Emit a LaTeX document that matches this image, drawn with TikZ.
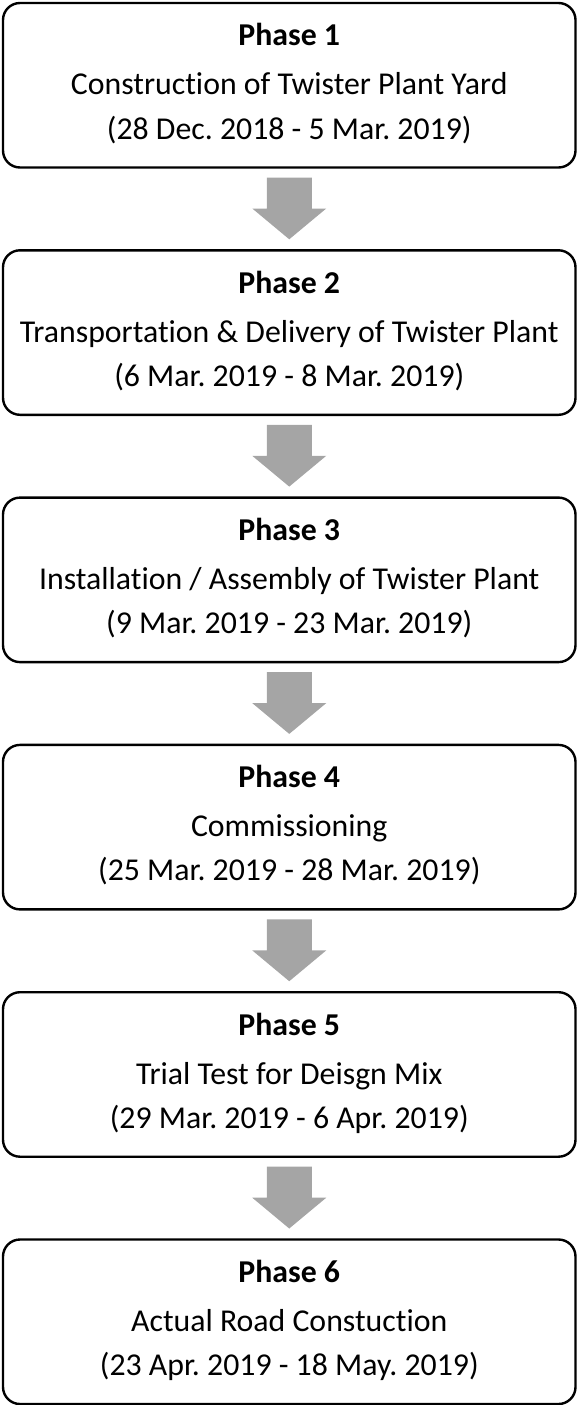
\documentclass[tikz,border=0pt]{standalone}
\usepackage{fontspec}
\setmainfont{Carlito}[Ligatures={NoCommon}]
\usetikzlibrary{calc}
\frenchspacing

\definecolor{arrowgray}{HTML}{A5A5A5}

\tikzset{
  phasebox/.style={draw=black, line width=2.4pt, rounded corners=17pt,
    minimum width=572.5pt, minimum height=164.5pt, outer sep=0pt, inner sep=0pt},
  textline/.style={anchor=base, inner sep=0pt, font=\fontsize{31.8}{38}\selectfont},
  headline/.style={textline, font=\fontsize{31.8}{38}\selectfont\bfseries},
  flowarrow/.style={fill=arrowgray, draw=none}
}

% block arrow from the bottom of one phase box to the top of the next
\newcommand\phasearrow[2]{%
  \fill[flowarrow] ($(#1.south)+(-22.5,10)$) -- ++(45,0) -- ++(0,31) -- ++(14.5,0)
    -- ($(#2.north)+(0,-11)$) -- ($(#1.south)+(-37,41)$) -- ++(14.5,0) -- cycle;
}

\begin{document}
\begin{tikzpicture}[x=1pt,y=-1pt]
  \useasboundingbox (0,0) rectangle (577,1405);

  % phase boxes
  \node[phasebox] (p1) at (289.25,85.25) {};
  \node[phasebox] (p2) at (289.25,332.55) {};
  \node[phasebox] (p3) at (289.25,579.85) {};
  \node[phasebox] (p4) at (289.25,827.15) {};
  \node[phasebox] (p5) at (289.25,1074.45) {};
  \node[phasebox] (p6) at (289.25,1321.75) {};

  % box contents
  \node[headline] (h1) at ($(p1.north)+(0,43)$) {Phase 1};
  \node[textline] (d1) at ($(p1.north)+(0,92)$) {Construction of Twister Plant Yard};
  \node[textline] (t1) at ($(p1.north)+(0,136)$) {(28 Dec. 2018 - 5 Mar. 2019)};

  \node[headline] (h2) at ($(p2.north)+(0,43)$) {Phase 2};
  \node[textline] (d2) at ($(p2.north)+(0,92)$) {Transportation \& Delivery of Twister Plant};
  \node[textline] (t2) at ($(p2.north)+(0,136)$) {(6 Mar. 2019 - 8 Mar. 2019)};

  \node[headline] (h3) at ($(p3.north)+(0,43)$) {Phase 3};
  \node[textline] (d3) at ($(p3.north)+(0,92)$) {Installation / Assembly of Twister Plant};
  \node[textline] (t3) at ($(p3.north)+(0,136)$) {(9 Mar. 2019 - 23 Mar. 2019)};

  \node[headline] (h4) at ($(p4.north)+(0,43)$) {Phase 4};
  \node[textline] (d4) at ($(p4.north)+(0,92)$) {Commissioning};
  \node[textline] (t4) at ($(p4.north)+(0,136)$) {(25 Mar. 2019 - 28 Mar. 2019)};

  \node[headline] (h5) at ($(p5.north)+(0,43)$) {Phase 5};
  \node[textline] (d5) at ($(p5.north)+(0,92)$) {Trial Test for Deisgn Mix};
  \node[textline] (t5) at ($(p5.north)+(0,136)$) {(29 Mar. 2019 - 6 Apr. 2019)};

  \node[headline] (h6) at ($(p6.north)+(0,43)$) {Phase 6};
  \node[textline] (d6) at ($(p6.north)+(0,92)$) {Actual Road Constuction};
  \node[textline] (t6) at ($(p6.north)+(0,136)$) {(23 Apr. 2019 - 18 May. 2019)};

  % connecting arrows
  \phasearrow{p1}{p2}
  \phasearrow{p2}{p3}
  \phasearrow{p3}{p4}
  \phasearrow{p4}{p5}
  \phasearrow{p5}{p6}
\end{tikzpicture}
\end{document}
